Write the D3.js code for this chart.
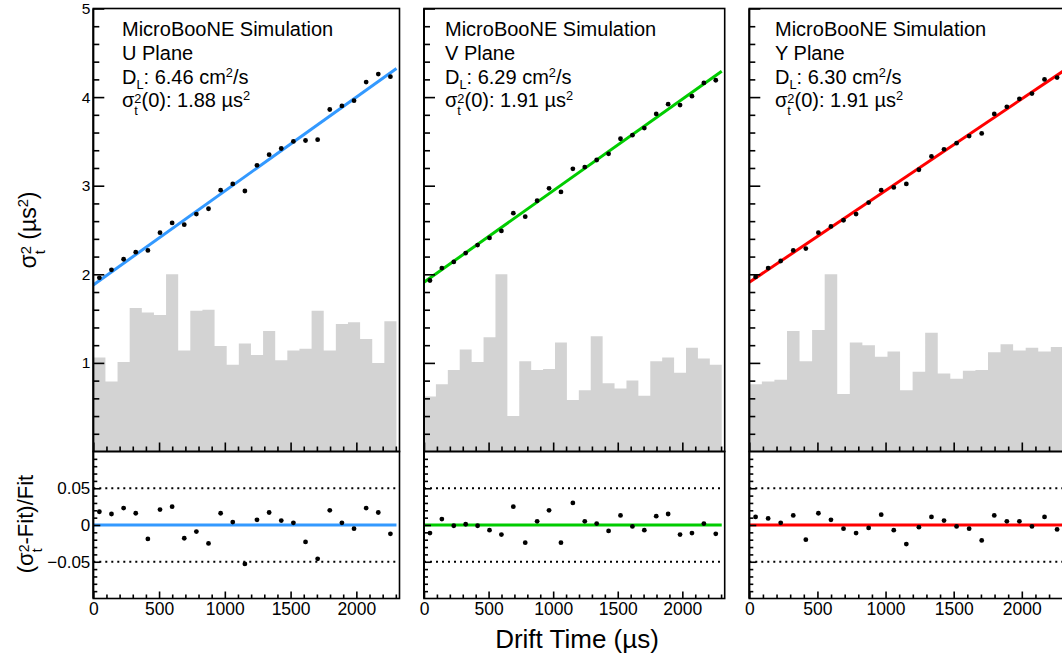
<!DOCTYPE html>
<html>
<head>
<meta charset="utf-8">
<script src="https://cdn.jsdelivr.net/npm/d3@7"></script>
<style>
body { margin: 0; background: #fff; }
svg { display: block; font-family: "Liberation Sans", Arial, Helvetica, sans-serif; }
text { white-space: pre; }
</style>
</head>
<body>
<svg id="chart" width="1062" height="659"></svg>
<script>
// drift time binning (us)
var nBins = 25;
var binWidth = 92.2;
var xMax = 2328;

var planes = ["U", "V", "Y"];
var dlLabels = ["6.46", "6.29", "6.30"];
var sigma0Labels = ["1.88", "1.91", "1.91"];
var fitIntercept = [1.88, 1.91, 1.91];
var fitSlope = [0.00106, 0.001033, 0.001035];
var fitColors = ["#3399ff", "#00cc00", "#ff0000"];

// sigma_t^2 per bin (us^2)
var sigmaU = [1.96, 2.05, 2.17, 2.25, 2.27, 2.47, 2.58, 2.56, 2.68, 2.74, 2.95, 3.02, 2.94,
  3.23, 3.35, 3.42, 3.50, 3.51, 3.52, 3.86, 3.90, 3.96, 4.17, 4.26, 4.23];
var sigmaV = [1.93, 2.07, 2.14, 2.24, 2.33, 2.41, 2.49, 2.69, 2.65, 2.83, 2.97, 2.93, 3.19,
  3.21, 3.29, 3.36, 3.53, 3.57, 3.65, 3.81, 3.92, 3.91, 4.01, 4.16, 4.19];
var sigmaY = [1.97, 2.07, 2.15, 2.27, 2.29, 2.47, 2.54, 2.61, 2.68, 2.81, 2.95, 2.98, 3.02,
  3.18, 3.33, 3.41, 3.48, 3.56, 3.59, 3.81, 3.89, 3.98, 4.04, 4.20, 4.22];

// (sigma^2 - fit) / fit
var resU = [0.018, 0.015, 0.023, 0.016, -0.019, 0.021, 0.025, -0.018, -0.009, -0.025, 0.016, 0.004, -0.053,
  0.007, 0.017, 0.006, 0.003, -0.023, -0.046, 0.020, 0.003, -0.005, 0.023, 0.017, -0.012];
var resV = [-0.011, 0.008, -0.001, 0.001, -0.001, -0.007, -0.013, 0.025, -0.024, 0.005, 0.020, -0.024, 0.030,
  0.005, 0.002, -0.008, 0.013, -0.002, -0.007, 0.012, 0.015, -0.013, -0.011, 0.002, -0.012];
var resY = [0.011, 0.009, 0.003, 0.013, -0.020, 0.016, 0.007, -0.005, -0.011, -0.004, 0.014, -0.007, -0.026,
  -0.003, 0.011, 0.006, -0.002, -0.005, -0.021, 0.013, 0.005, 0.005, -0.002, 0.011, -0.006];

// grey background distribution (scaled to the sigma axis)
var histU = [1.06, 0.79, 1.01, 1.62, 1.57, 1.54, 2.00, 1.14, 1.59, 1.60, 1.19, 0.98, 1.22,
  1.09, 1.36, 1.03, 1.14, 1.16, 1.59, 1.14, 1.44, 1.46, 1.27, 1.00, 1.47];
var histV = [0.62, 0.76, 0.92, 1.15, 1.01, 1.29, 2.00, 0.40, 1.02, 0.92, 0.93, 1.23, 0.58,
  0.69, 1.30, 0.77, 0.71, 0.80, 0.63, 1.02, 1.06, 0.89, 1.17, 1.05, 0.98];
var histY = [0.76, 0.79, 0.81, 1.36, 1.02, 1.37, 2.00, 0.65, 1.23, 1.20, 1.07, 1.13, 0.69,
  0.90, 1.34, 0.88, 0.82, 0.91, 0.92, 1.12, 1.21, 1.14, 1.17, 1.13, 1.18];

var yTopTicks = [1, 2, 3, 4, 5];
var xTicks = [0, 500, 1000, 1500, 2000];
var resTicks = [-0.05, 0, 0.05];

var sigmas = [sigmaU, sigmaV, sigmaY];
var resids = [resU, resV, resY];
var hists = [histU, histV, histY];

// pad geometry
var panelX = [[93.3, 399.5], [424, 724.7], [749.3, 1066.5]];
var labelX = [122, 445, 775];
var topY = 8.5, midY = 451.5, botY = 598.5;

var svg = d3.select("#chart");

// offsets (in em) for the little latex-like pieces
var shift = { n: 0, sup: -0.36, sub: 0.25, ssup: -0.2, ssub: 0.4 };

// draws a ROOT-like latex string as a row of text pieces, returns its width
function richText(g, x, y, parts, size) {
  var cx = x;
  parts.forEach(function(p) {
    var pieces = p.stack ? [[p.stack[0], "ssup"], [p.stack[1], "ssub"]] : [[p.t, p.k || "n"]];
    var adv = 0;
    pieces.forEach(function(q) {
      var t = g.append("text")
        .attr("x", cx)
        .attr("y", y + shift[q[1]] * size)
        .attr("font-size", q[1] === "n" ? size : size * 0.64)
        .text(q[0]);
      adv = Math.max(adv, t.node().getComputedTextLength());
    });
    cx += adv;
  });
  return cx - x;
}

function rotatedTitle(cx, cy, parts, size) {
  var outer = svg.append("g").attr("transform", "translate(" + cx + "," + cy + ") rotate(-90)");
  var inner = outer.append("g");
  var w = richText(inner, 0, 0, parts, size);
  inner.attr("transform", "translate(" + (-w / 2) + ",0)");
}

planes.forEach(function(name, i) {
  var x = d3.scaleLinear().domain([0, xMax]).range(panelX[i]);
  var yTop = d3.scaleLinear().domain([0, 5]).range([midY, topY]);
  var yRes = d3.scaleLinear().domain([-0.1, 0.1]).range([botY, midY]);
  var centers = d3.range(nBins).map(function(j) { return (j + 0.5) * binWidth; });
  var fitEnd = nBins * binWidth;
  var g = svg.append("g");

  // grey histogram
  var histPts = hists[i].map(function(v, j) { return [j * binWidth, v]; });
  histPts.push([fitEnd, hists[i][nBins - 1]]);
  g.append("path")
    .datum(histPts)
    .attr("fill", "#d3d3d3")
    .attr("d", d3.area().curve(d3.curveStepAfter)
      .x(function(d) { return x(d[0]); })
      .y0(yTop(0))
      .y1(function(d) { return yTop(d[1]); }));

  // linear fit
  g.append("line")
    .attr("x1", x(0)).attr("y1", yTop(fitIntercept[i]))
    .attr("x2", x(fitEnd)).attr("y2", yTop(fitIntercept[i] + fitSlope[i] * fitEnd))
    .attr("stroke", fitColors[i])
    .attr("stroke-width", 3);

  g.selectAll(".pt")
    .data(sigmas[i])
    .join("circle")
    .attr("cx", function(d, j) { return x(centers[j]); })
    .attr("cy", function(d) { return yTop(d); })
    .attr("r", 2.4)
    .attr("fill", "#000");

  // residual pad
  g.selectAll(".dot")
    .data([0.05, -0.05])
    .join("line")
    .attr("x1", x(0)).attr("x2", x(xMax))
    .attr("y1", function(d) { return yRes(d); })
    .attr("y2", function(d) { return yRes(d); })
    .attr("stroke", "#000")
    .attr("stroke-width", 2)
    .attr("stroke-dasharray", "2,4");

  g.append("line")
    .attr("x1", x(0)).attr("x2", x(fitEnd))
    .attr("y1", yRes(0)).attr("y2", yRes(0))
    .attr("stroke", fitColors[i])
    .attr("stroke-width", 3);

  g.selectAll(".rpt")
    .data(resids[i])
    .join("circle")
    .attr("cx", function(d, j) { return x(centers[j]); })
    .attr("cy", function(d) { return yRes(d); })
    .attr("r", 2.4)
    .attr("fill", "#000");

  // frames
  g.append("rect")
    .attr("x", x(0)).attr("y", topY)
    .attr("width", x(xMax) - x(0)).attr("height", midY - topY)
    .attr("fill", "none").attr("stroke", "#000").attr("stroke-width", 1.6);
  g.append("rect")
    .attr("x", x(0)).attr("y", midY)
    .attr("width", x(xMax) - x(0)).attr("height", botY - midY)
    .attr("fill", "none").attr("stroke", "#000").attr("stroke-width", 1.6);
  g.append("line")
    .attr("x1", x(0)).attr("x2", x(0)).attr("y1", topY).attr("y2", botY)
    .attr("stroke", "#000").attr("stroke-width", 2);

  function axis(gen, transform, fontSize) {
    var a = g.append("g").attr("transform", transform).call(gen);
    a.select(".domain").remove();
    a.selectAll("line").attr("stroke-width", 1.6);
    a.selectAll("text").attr("font-size", fontSize).attr("font-family", null).attr("fill", "#000");
    return a;
  }

  var minorTop = d3.range(1, 25).map(function(k) { return k * 0.2; })
    .filter(function(v) { return Math.abs(v - Math.round(v)) > 1e-6; });
  var minorX = d3.range(1, 24).map(function(k) { return k * 100; })
    .filter(function(v) { return v % 500 !== 0; });
  var minorRes = d3.range(-9, 10).map(function(k) { return k * 0.01; })
    .filter(function(v) { return Math.abs(v) > 1e-6 && Math.abs(Math.abs(v) - 0.05) > 1e-6; });

  // sigma axis
  axis(d3.axisLeft(yTop).tickValues(yTopTicks).tickSizeInner(-11).tickSizeOuter(0).tickPadding(3)
    .tickFormat(i === 0 ? d3.format("d") : ""), "translate(" + x(0) + ",0)", 15.5);
  axis(d3.axisLeft(yTop).tickValues(minorTop).tickSizeInner(-6).tickSizeOuter(0).tickFormat(""),
    "translate(" + x(0) + ",0)", 15);

  // x ticks on the upper pad
  axis(d3.axisBottom(x).tickValues(xTicks).tickSizeInner(-9).tickSizeOuter(0).tickFormat(""),
    "translate(0," + midY + ")", 15);
  axis(d3.axisBottom(x).tickValues(minorX).tickSizeInner(-5).tickSizeOuter(0).tickFormat(""),
    "translate(0," + midY + ")", 15);

  // residual axes
  axis(d3.axisLeft(yRes).tickValues(resTicks).tickSizeInner(-7).tickSizeOuter(0).tickPadding(3)
    .tickFormat(i === 0 ? function(d) { return d === 0 ? "0" : d3.format(".2f")(d); } : ""),
    "translate(" + x(0) + ",0)", 17);
  axis(d3.axisLeft(yRes).tickValues(minorRes).tickSizeInner(-4).tickSizeOuter(0).tickFormat(""),
    "translate(" + x(0) + ",0)", 15);
  axis(d3.axisBottom(x).tickValues(xTicks).tickSizeInner(-7).tickSizeOuter(0).tickPadding(4)
    .tickFormat(d3.format("d")), "translate(0," + botY + ")", 17.5);
  axis(d3.axisBottom(x).tickValues(minorX).tickSizeInner(-4).tickSizeOuter(0).tickFormat(""),
    "translate(0," + botY + ")", 15);

  // labels
  var lg = svg.append("g").attr("fill", "#000");
  richText(lg, labelX[i], 36, [{ t: "MicroBooNE Simulation" }], 20);
  richText(lg, labelX[i], 60, [{ t: name + " Plane" }], 20);
  richText(lg, labelX[i], 84, [{ t: "D" }, { t: "L", k: "sub" }, { t: ": " + dlLabels[i] + " cm" },
    { t: "2", k: "sup" }, { t: "/s" }], 20);
  richText(lg, labelX[i], 107, [{ t: "σ" }, { stack: ["2", "t"] }, { t: "(0): " + sigma0Labels[i] + " µs" },
    { t: "2", k: "sup" }], 20);
});

rotatedTitle(36, 230, [{ t: "σ" }, { stack: ["2", "t"] }, { t: " (µs" }, { t: "2", k: "sup" }, { t: ")" }], 23);
rotatedTitle(33, 524, [{ t: "(σ" }, { stack: ["2", "t"] }, { t: "-Fit)/Fit" }], 22);

svg.append("text")
  .attr("x", 577)
  .attr("y", 648)
  .attr("text-anchor", "middle")
  .attr("font-size", 26)
  .text("Drift Time (µs)");
</script>
</body>
</html>
